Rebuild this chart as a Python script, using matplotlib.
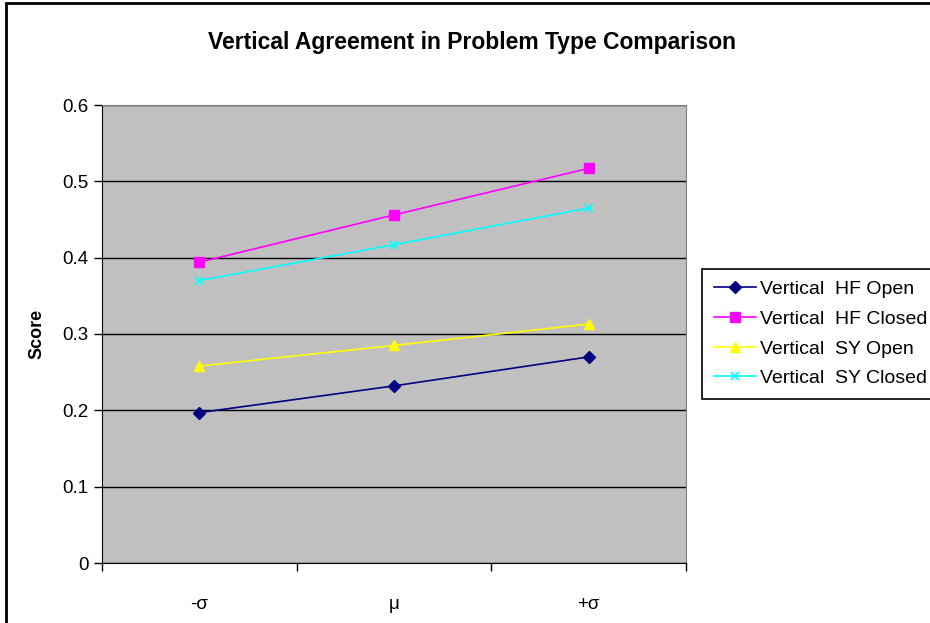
import matplotlib
matplotlib.use("Agg")
import matplotlib.pyplot as plt
from matplotlib.patches import Rectangle

plt.rcParams["font.family"] = ["Liberation Sans", "DejaVu Sans"]

categories = ["-σ", "μ", "+σ"]
hf_open = [0.197, 0.232, 0.270]
hf_closed = [0.394, 0.456, 0.517]
sy_open = [0.258, 0.285, 0.313]
sy_closed = [0.370, 0.417, 0.465]

W, H = 930, 623
fig = plt.figure(figsize=(9.3, 6.23), dpi=100)
ax = fig.add_axes([102 / W, 1 - 563 / H, (686 - 102) / W, (563 - 105) / H])
ax.set_facecolor("#C0C0C0")

x = range(len(categories))
ax.plot(x, hf_open, color="#000080", marker="D", markersize=6, lw=1.2, label="Vertical  HF Open")
ax.plot(x, hf_closed, color="#FF00FF", marker="s", markersize=6.5, lw=1.2, label="Vertical  HF Closed")
ax.plot(x, sy_open, color="#FFFF00", marker="^", markersize=7, lw=1.2, label="Vertical  SY Open")
ax.plot(x, sy_closed, color="#00FFFF", marker="x", markersize=6, mew=1.3, lw=1.2, label="Vertical  SY Closed")

ax.set_xlim(-0.5, 2.5)
ax.set_ylim(0, 0.6)
ax.set_yticks([0, 0.1, 0.2, 0.3, 0.4, 0.5, 0.6])
ax.set_yticklabels(["0", "0.1", "0.2", "0.3", "0.4", "0.5", "0.6"], fontsize=13.5)
ax.yaxis.grid(True, color="black", lw=1)
ax.set_axisbelow(True)

ax.set_xticks([-0.5, 0.5, 1.5, 2.5])
ax.set_xticklabels([])
ax.set_xticks(list(x), minor=True)
ax.set_xticklabels(categories, minor=True, fontsize=13.5)
ax.tick_params(axis="x", which="minor", length=0, pad=24)
ax.tick_params(axis="both", which="major", direction="out", length=6, width=1, colors="black")

for side in ["top", "right"]:
    ax.spines[side].set_color("#808080")
for side in ["left", "bottom"]:
    ax.spines[side].set_color("black")

ax.set_ylabel("Score", fontsize=13, fontweight="bold", labelpad=12)
fig.text(472 / W, 1 - 42 / H, "Vertical Agreement in Problem Type Comparison",
         ha="center", va="center", fontsize=16.5, fontweight="bold")

leg = fig.legend(loc="upper left", bbox_to_anchor=(702 / W, 1 - 269 / H), fontsize=14,
                 frameon=True, fancybox=False, edgecolor="black", framealpha=1,
                 borderaxespad=0, borderpad=0.6, labelspacing=0.62, handlelength=2.2,
                 handletextpad=0.2)
leg.get_frame().set_linewidth(1.2)

fig.patches.append(Rectangle((6 / W, -0.1), 1.2, 1 - 3 / H + 0.1, transform=fig.transFigure,
                             fill=False, edgecolor="black", lw=2))

fig.savefig("out.png", dpi=100)
